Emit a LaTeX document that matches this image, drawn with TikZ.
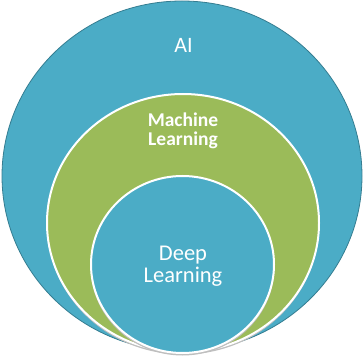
\documentclass[tikz,border=0pt]{standalone}
\usepackage{fontspec}
\setmainfont{Carlito}
\definecolor{aqua}{HTML}{4BACC6}
\definecolor{aquadark}{HTML}{357D91}
\definecolor{olive}{HTML}{9BBB59}
\begin{document}
\begin{tikzpicture}[x=1pt,y=1pt,
  lbl/.style={text=white,align=center,inner sep=0pt},
  ring/.style={draw=white,line width=2pt}]
\useasboundingbox (0,0) rectangle (364,359);
% outer AI ellipse
\path[fill=aqua,draw=aquadark,line width=0.8pt] (182,183) ellipse [x radius=180,y radius=175];
% shadows
\path[fill=black!25] (183,134) ellipse [x radius=136,y radius=129.5];
\path[fill=olive,ring] (183,136) ellipse [x radius=136,y radius=129];
\path[fill=black!25] (182.5,92.5) ellipse [x radius=92,y radius=89];
\path[fill=aqua,ring] (182.5,94.5) ellipse [x radius=91.5,y radius=88.5];
\node[lbl,font=\fontsize{22}{24}\selectfont] (ai) at (183.5,313.5) {AI};
\node[lbl,font=\bfseries\fontsize{19.5}{19.5}\selectfont] (ml) at (183,228) {Machine\\Learning};
\node[lbl,font=\fontsize{22.5}{22.5}\selectfont] (dl) at (183,93) {Deep\\Learning};
\end{tikzpicture}
\end{document}
